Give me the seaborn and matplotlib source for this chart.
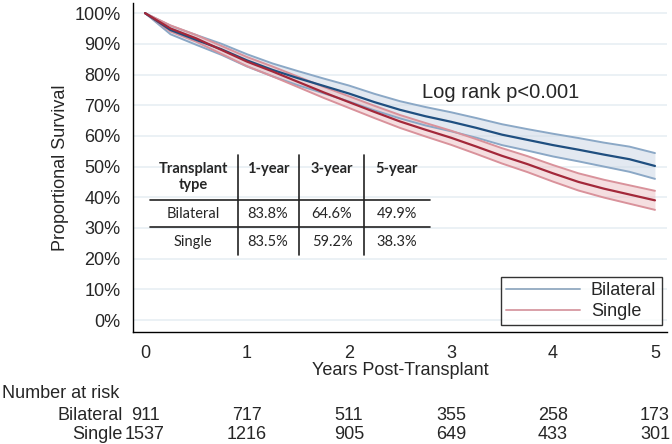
import numpy as np
import pandas as pd
import matplotlib
matplotlib.use("Agg")
import matplotlib.pyplot as plt
import matplotlib.transforms as mtrans
import seaborn as sns
from matplotlib.lines import Line2D

# Kaplan-Meier estimates (percent survival)
years = [0, 0.25, 0.5, 0.75, 1.0, 1.25, 1.5, 1.75, 2.0, 2.25, 2.5,
         2.75, 3.0, 3.25, 3.5, 3.75, 4.0, 4.25, 4.5, 4.75, 5.0]
bilateral = [100, 94.5, 91.3, 88.2, 84.6, 81.5, 78.8, 76.3, 73.8, 71.0, 68.5,
             66.4, 64.6, 62.6, 60.4, 58.7, 57.0, 55.5, 53.9, 52.4, 50.2]
single = [100, 95.0, 91.8, 88.0, 84.2, 81.0, 77.6, 74.2, 71.0, 67.8, 64.7,
          62.0, 59.4, 56.5, 53.5, 50.8, 47.8, 45.0, 42.8, 40.9, 39.0]
# 95% CI half widths
bilateral_ci = [0, 1.4, 1.6, 1.8, 2.0, 2.1, 2.3, 2.4, 2.6, 2.7, 2.8,
                3.0, 3.1, 3.2, 3.4, 3.5, 3.7, 3.8, 3.9, 4.1, 4.2]
single_ci = [0, 1.0, 1.1, 1.3, 1.5, 1.6, 1.7, 1.8, 1.9, 2.0, 2.1,
             2.2, 2.3, 2.4, 2.5, 2.6, 2.7, 2.8, 2.9, 3.0, 3.1]

risk_years = [0, 1, 2, 3, 4, 5]
risk_bilateral = [911, 717, 511, 355, 258, 173]
risk_single = [1537, 1216, 905, 649, 433, 301]

table_header = ["Transplant\ntype", "1-year", "3-year", "5-year"]
table_rows = [["Bilateral", "83.8%", "64.6%", "49.9%"],
              ["Single", "83.5%", "59.2%", "38.3%"]]

groups = ["Bilateral", "Single"]
line_col = {"Bilateral": "#1f4f80", "Single": "#a3283a"}
edge_col = {"Bilateral": "#8ba8c6", "Single": "#d9929b"}
fill_col = {"Bilateral": "#ccd8e6", "Single": "#eec3c7"}
legend_col = {"Bilateral": "#9aafc5", "Single": "#d9a0a8"}

df = pd.DataFrame({
    "Years": years * 2,
    "Survival": [v / 100 for v in bilateral + single],
    "ci": [v / 100 for v in bilateral_ci + single_ci],
    "Type": ["Bilateral"] * len(years) + ["Single"] * len(years),
})
df["lo"] = df["Survival"] - df["ci"]
df["hi"] = df["Survival"] + df["ci"]

sns.set_style("white")
plt.rcParams["font.family"] = ["Liberation Sans", "DejaVu Sans"]
FS = 13

W, H = 672, 444
fig = plt.figure(figsize=(W / 100, H / 100), dpi=100)
ax = fig.add_axes([133 / W, 1 - 332 / H, 534 / W, 329 / H])

for g in groups:
    d = df[df["Type"] == g]
    ax.fill_between(d["Years"], d["lo"], d["hi"], color=fill_col[g], alpha=0.55, lw=0, zorder=2)
    ax.plot(d["Years"], d["lo"], color=edge_col[g], lw=1.4, zorder=3)
    ax.plot(d["Years"], d["hi"], color=edge_col[g], lw=1.4, zorder=3)

sns.lineplot(data=df, x="Years", y="Survival", hue="Type", palette=line_col,
             hue_order=groups, lw=1.6, ax=ax, legend=False, zorder=4)

ax.set_xlim(-0.118, 5.118)
ax.set_ylim(-0.039, 1.033)
ax.set_xticks(risk_years)
yt = np.arange(0, 1.01, 0.1)
ax.set_yticks(yt)
ax.set_yticklabels([f"{int(round(v * 100))}%" for v in yt])
for v in yt:
    ax.axhline(v, color="#e6edf2", lw=1.1, zorder=1)
ax.tick_params(axis="both", direction="out", length=6, width=1, labelsize=FS,
               color="black", pad=3)
ax.tick_params(axis="x", pad=3)
for s in ["top", "right"]:
    ax.spines[s].set_visible(False)
for s in ["left", "bottom"]:
    ax.spines[s].set_color("black")
    ax.spines[s].set_linewidth(1)
ax.set_xlabel("Years Post-Transplant", fontsize=FS, labelpad=0)
ax.set_ylabel("Proportional Survival", fontsize=FS, labelpad=4)

ax.text(3.49, 0.743, "Log rank p<0.001", fontsize=14.5, va="center", ha="center")

handles = [Line2D([], [], color=legend_col[g], lw=1.4) for g in groups]
leg = ax.legend(handles, groups, loc="lower right", bbox_to_anchor=(0.99, 0.02),
                frameon=True, fancybox=False, fontsize=FS, handlelength=4.1,
                borderpad=0.3, labelspacing=0.2, handletextpad=0.6, borderaxespad=0)
leg.get_frame().set_edgecolor("black")
leg.get_frame().set_linewidth(1)


def fx(px):
    return px / W


def fy(py):
    return 1 - py / H


# summary table inside the plot
tfont = ["Lato", "DejaVu Sans"]
TFS = 10.5
col_x = [193, 268, 332, 397]
for xpos, txt in zip(col_x, table_header):
    fig.text(fx(xpos), fy(177 if "\n" in txt else 169), txt, ha="center", va="center",
             fontsize=TFS, fontweight="bold", family=tfont, linespacing=1.2)
for row, ypos in zip(table_rows, [214, 242]):
    for xpos, txt in zip(col_x, row):
        fig.text(fx(xpos), fy(ypos), txt, ha="center", va="center", fontsize=TFS, family=tfont)
for vx in [238, 299, 364]:
    fig.add_artist(Line2D([fx(vx), fx(vx)], [fy(155), fy(255)], color="#222222", lw=1.2))
for hy in [200, 227]:
    fig.add_artist(Line2D([fx(150), fx(430)], [fy(hy), fy(hy)], color="#222222", lw=1.2))

# number at risk
risk_tr = mtrans.blended_transform_factory(ax.transData, fig.transFigure)
fig.text(fx(2), fy(393), "Number at risk", fontsize=FS, va="center", ha="left")
for lab, vals, ypos in [("Bilateral", risk_bilateral, 415), ("Single", risk_single, 434)]:
    fig.text(fx(123), fy(ypos), lab, fontsize=FS, va="center", ha="right")
    for t, n in zip(risk_years, vals):
        ax.text(t, fy(ypos), str(n), fontsize=FS, va="center", ha="center", transform=risk_tr)

fig.savefig("out.png", dpi=100)
